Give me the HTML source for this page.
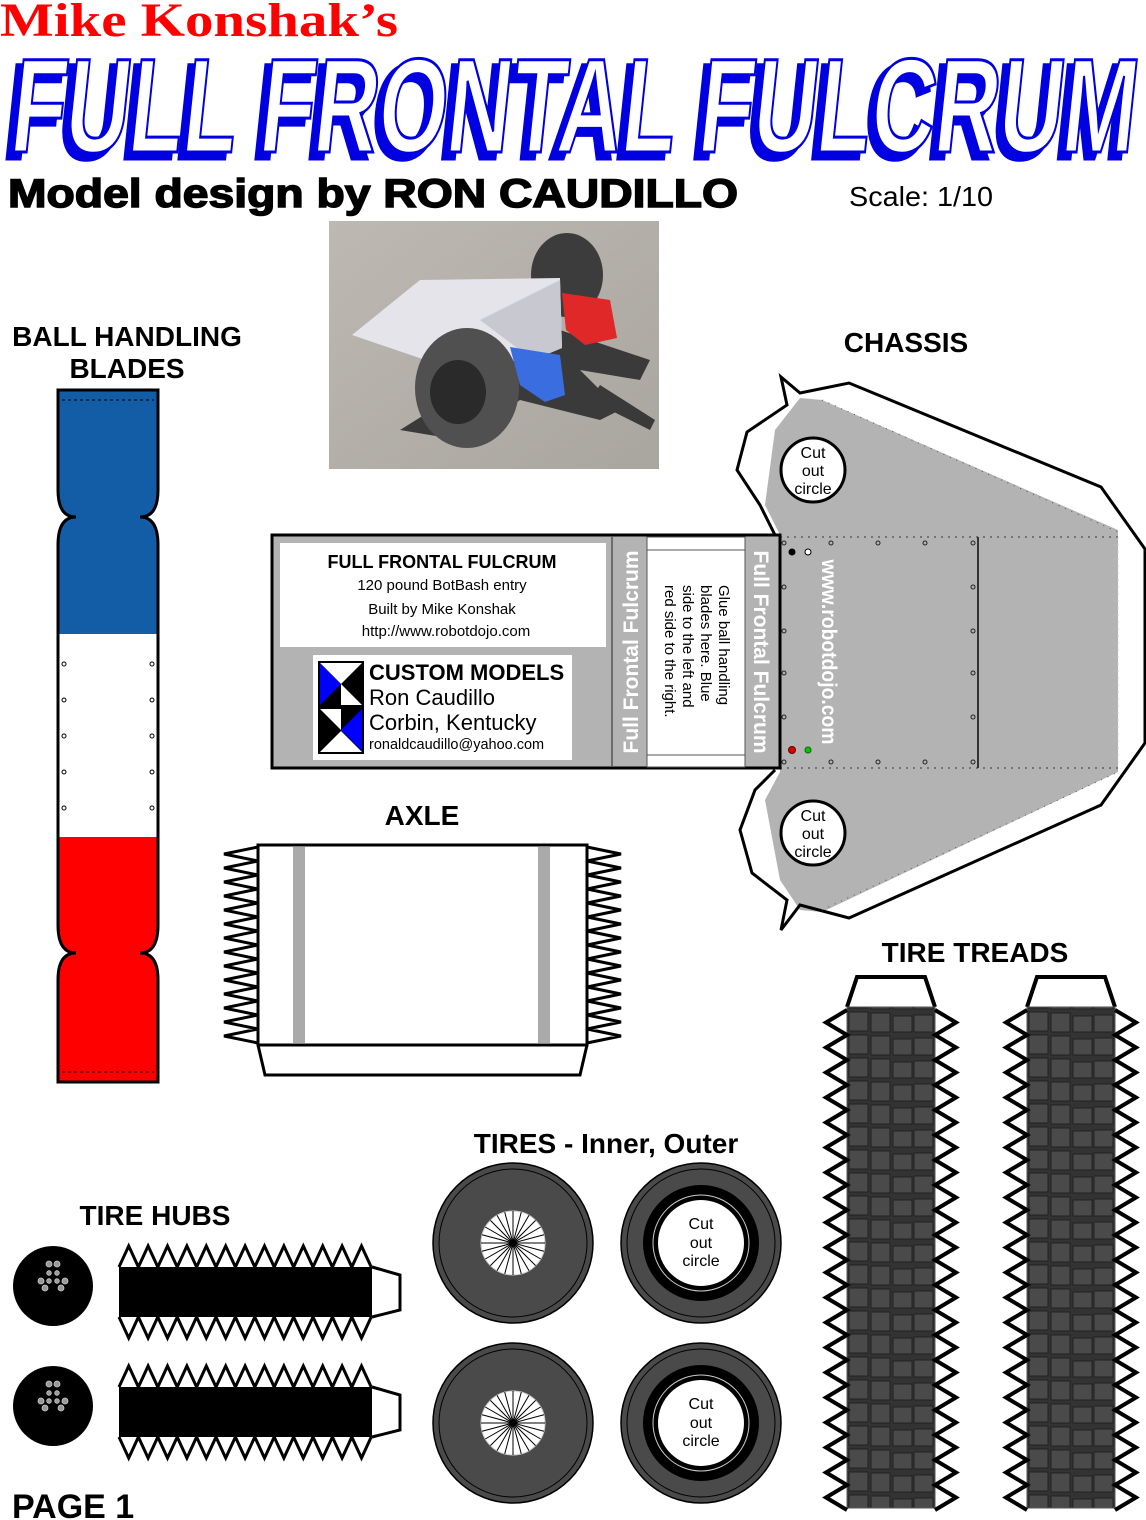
<!DOCTYPE html>
<html><head><meta charset="utf-8"><style>
html,body{margin:0;padding:0;background:#fff}
svg{display:block}
text{font-family:"Liberation Sans",sans-serif}
</style></head><body>
<svg width="1146" height="1520" viewBox="0 0 1146 1520" xmlns="http://www.w3.org/2000/svg">
<defs>
<linearGradient id="pg" x1="0" y1="0" x2="1" y2="1"><stop offset="0" stop-color="#bdb9b2"/><stop offset="1" stop-color="#a9a59f"/></linearGradient>
<pattern id="tread" x="847" y="1010" width="88" height="23" patternUnits="userSpaceOnUse">
<rect width="88" height="23" fill="#333"/>
<rect x="2" y="2" width="19" height="19" fill="#4a4a4a" stroke="#222" stroke-width="1"/>
<rect x="24" y="3" width="19" height="19" fill="#4a4a4a" stroke="#222" stroke-width="1"/>
<rect x="46" y="6" width="19" height="16" fill="#4a4a4a" stroke="#222" stroke-width="1"/>
<rect x="67" y="5" width="19" height="17" fill="#4a4a4a" stroke="#222" stroke-width="1"/>
</pattern>
<pattern id="tread2" x="1027" y="1010" width="88" height="23" patternUnits="userSpaceOnUse">
<rect width="88" height="23" fill="#333"/>
<rect x="2" y="2" width="19" height="19" fill="#4a4a4a" stroke="#222" stroke-width="1"/>
<rect x="24" y="3" width="19" height="19" fill="#4a4a4a" stroke="#222" stroke-width="1"/>
<rect x="46" y="6" width="19" height="16" fill="#4a4a4a" stroke="#222" stroke-width="1"/>
<rect x="67" y="5" width="19" height="17" fill="#4a4a4a" stroke="#222" stroke-width="1"/>
</pattern>
<clipPath id="bladeclip"><path id="bladep" d="M58,390 H158 V490 Q158,517 140,517 Q158,517 158,545 V925 Q158,953 140,953 Q158,953 158,980 V1082 H58 V980 Q58,953 76,953 Q58,953 58,925 V545 Q58,517 76,517 Q58,517 58,490 Z"/></clipPath>
<g id="spokes">
<circle r="32" fill="#fff" stroke="#ccc" stroke-width="1"/>
<g stroke="#000" stroke-width="1">
<line x1="-32" y1="0" x2="32" y2="0"/>
<line x1="-32" y1="0" x2="32" y2="0" transform="rotate(15)"/>
<line x1="-32" y1="0" x2="32" y2="0" transform="rotate(30)"/>
<line x1="-32" y1="0" x2="32" y2="0" transform="rotate(45)"/>
<line x1="-32" y1="0" x2="32" y2="0" transform="rotate(60)"/>
<line x1="-32" y1="0" x2="32" y2="0" transform="rotate(75)"/>
<line x1="-32" y1="0" x2="32" y2="0" transform="rotate(90)"/>
<line x1="-32" y1="0" x2="32" y2="0" transform="rotate(105)"/>
<line x1="-32" y1="0" x2="32" y2="0" transform="rotate(120)"/>
<line x1="-32" y1="0" x2="32" y2="0" transform="rotate(135)"/>
<line x1="-32" y1="0" x2="32" y2="0" transform="rotate(150)"/>
<line x1="-32" y1="0" x2="32" y2="0" transform="rotate(165)"/>
</g></g>
<g id="hubdisc">
<circle r="40" fill="#000"/>
<g fill="#999" stroke="#ccc" stroke-width="0.8">
<circle cx="-4" cy="-22" r="3"/><circle cx="4" cy="-22" r="3"/>
<circle cx="-4" cy="-13" r="2.3"/><circle cx="4" cy="-13" r="2.3"/>
<circle cx="-4" cy="-5" r="2.3"/><circle cx="4" cy="-5" r="2.3"/>
<circle cx="-12" cy="-5" r="3"/><circle cx="12" cy="-5" r="3"/>
<circle cx="-8" cy="2" r="3"/><circle cx="8" cy="2" r="3"/>
</g></g>
<g id="hubstrip">
<path d="M119,1267 l9.7,-21 9.7,21 9.7,-21 9.7,21 9.7,-21 9.7,21 9.7,-21 9.7,21 9.7,-21 9.7,21 9.7,-21 9.7,21 9.7,-21 9.7,21 9.7,-21 9.7,21 9.7,-21 9.7,21 9.7,-21 9.7,21 9.7,-21 9.7,21 9.7,-21 9.7,21 9.7,-21 9.7,21" fill="#fff" stroke="#000" stroke-width="3" stroke-linejoin="miter"/>
<path d="M119,1317 l9.7,21 9.7,-21 9.7,21 9.7,-21 9.7,21 9.7,-21 9.7,21 9.7,-21 9.7,21 9.7,-21 9.7,21 9.7,-21 9.7,21 9.7,-21 9.7,21 9.7,-21 9.7,21 9.7,-21 9.7,21 9.7,-21 9.7,21 9.7,-21 9.7,21 9.7,-21 9.7,21 9.7,-21" fill="#fff" stroke="#000" stroke-width="3"/>
<rect x="119" y="1267" width="253" height="50" fill="#000"/>
<path d="M372,1267 L400,1275 L400,1310 L372,1317" fill="#fff" stroke="#000" stroke-width="3"/>
</g>
<path id="zz" d="M847,1010 l-21,12.5 21,12.5 -21,12.5 21,12.5 -21,12.5 21,12.5 -21,12.5 21,12.5 -21,12.5 21,12.5 -21,12.5 21,12.5 -21,12.5 21,12.5 -21,12.5 21,12.5 -21,12.5 21,12.5 -21,12.5 21,12.5 -21,12.5 21,12.5 -21,12.5 21,12.5 -21,12.5 21,12.5 -21,12.5 21,12.5 -21,12.5 21,12.5 -21,12.5 21,12.5 -21,12.5 21,12.5 -21,12.5 21,12.5 -21,12.5 21,12.5 -21,12.5 21,12.5" fill="none" stroke="#000" stroke-width="4"/>
</defs>

<!-- Header -->
<text x="0" y="36" font-size="48" font-weight="bold" fill="#f00" textLength="398" lengthAdjust="spacingAndGlyphs" style="font-family:'Liberation Serif',serif">Mike Konshak’s</text>
<g transform="skewX(-6)" font-weight="bold" font-size="134">
<text x="18" y="158" textLength="1125" lengthAdjust="spacingAndGlyphs" fill="#0000e0" stroke="#0000e0" stroke-width="5">FULL FRONTAL FULCRUM</text>
<text x="24" y="152" textLength="1125" lengthAdjust="spacingAndGlyphs" fill="#fff" stroke="#0000e0" stroke-width="3">FULL FRONTAL FULCRUM</text>
</g>
<text x="8" y="207" font-size="40" font-weight="bold" textLength="730" lengthAdjust="spacingAndGlyphs" stroke="#000" stroke-width="1.5">Model design by RON CAUDILLO</text>
<text x="849" y="206" font-size="28" textLength="144" lengthAdjust="spacingAndGlyphs">Scale: 1/10</text>

<!-- Photo -->
<rect x="329" y="221" width="330" height="248" fill="url(#pg)"/>
<path d="M560,330 L650,360 L640,380 L580,370 L620,410 L600,420 L520,400 L460,440 L400,430 Z" fill="#3a3a3a"/>
<path d="M600,385 L655,420 L650,430 L590,400 Z" fill="#3a3a3a"/>
<ellipse cx="567" cy="275" rx="36" ry="42" fill="#3c3c3c"/>
<polygon points="352,335 420,280 560,278 562,348 533,360 440,365" fill="#e4e4ea"/>
<polygon points="480,320 560,280 562,348 533,360" fill="#c8c8d0"/>
<polygon points="562,293 610,300 617,338 585,345 566,330" fill="#e02828"/>
<ellipse cx="467" cy="388" rx="52" ry="60" fill="#505050"/>
<ellipse cx="458" cy="392" rx="28" ry="32" fill="#2a2a2a"/>
<polygon points="510,347 560,355 565,395 545,402 520,385" fill="#3a6ee0"/>

<!-- Blades -->
<text x="127" y="346" font-size="28" font-weight="bold" text-anchor="middle">BALL HANDLING</text>
<text x="127" y="378" font-size="28" font-weight="bold" text-anchor="middle">BLADES</text>
<g clip-path="url(#bladeclip)">
<rect x="58" y="390" width="100" height="244" fill="#135da6"/>
<rect x="58" y="634" width="100" height="203" fill="#fff"/>
<rect x="58" y="837" width="100" height="245" fill="#f00"/>
</g>
<use href="#bladep" fill="none" stroke="#000" stroke-width="3"/>
<line x1="62" y1="400" x2="154" y2="400" stroke="#000" stroke-dasharray="3,3"/>
<line x1="62" y1="1072" x2="154" y2="1072" stroke="#000" stroke-dasharray="3,3"/>
<g fill="none" stroke="#000" stroke-width="1">
<circle cx="64" cy="664" r="2"/><circle cx="152" cy="664" r="2"/>
<circle cx="64" cy="700" r="2"/><circle cx="152" cy="700" r="2"/>
<circle cx="64" cy="736" r="2"/><circle cx="152" cy="736" r="2"/>
<circle cx="64" cy="772" r="2"/><circle cx="152" cy="772" r="2"/>
<circle cx="64" cy="808" r="2"/><circle cx="152" cy="808" r="2"/>
</g>

<!-- Chassis -->
<text x="906" y="352" font-size="28" font-weight="bold" text-anchor="middle">CHASSIS</text>
<path d="M800,398 L822,400 L1118,530 L1118,772 L822,912 L800,910 L780,880 L765,800 L780,772 L780,535 L765,505 L775,430 Z" fill="#b3b3b3"/>
<path d="M775,535 L760,505 L737,470 L747,432 L787,405 L781,377 L800,393 L849,383 L1101,487 L1145,549 L1145,743 L1101,805 L849,918 L800,905 L781,930 L787,900 L752,873 L740,830 L755,790 L775,770" fill="none" stroke="#000" stroke-width="3" stroke-linejoin="miter"/>
<line x1="780" y1="537" x2="1118" y2="537" stroke="#333" stroke-dasharray="2,5"/>
<line x1="780" y1="768" x2="1118" y2="768" stroke="#333" stroke-dasharray="2,5"/>
<line x1="1118" y1="537" x2="1118" y2="768" stroke="#ccc" stroke-dasharray="2,5"/>
<line x1="822" y1="400" x2="1118" y2="532" stroke="#555" stroke-dasharray="1,6"/>
<line x1="822" y1="910" x2="1118" y2="772" stroke="#555" stroke-dasharray="1,6"/>
<line x1="978" y1="537" x2="978" y2="768" stroke="#333" stroke-width="2"/>
<g fill="none" stroke="#222" stroke-width="1">
<circle cx="784" cy="543" r="2"/><circle cx="831" cy="543" r="2"/><circle cx="878" cy="543" r="2"/><circle cx="925" cy="543" r="2"/><circle cx="973" cy="543" r="2"/>
<circle cx="784" cy="762" r="2"/><circle cx="831" cy="762" r="2"/><circle cx="878" cy="762" r="2"/><circle cx="925" cy="762" r="2"/><circle cx="973" cy="762" r="2"/>
<circle cx="784" cy="587" r="2"/><circle cx="784" cy="631" r="2"/><circle cx="784" cy="673" r="2"/><circle cx="784" cy="717" r="2"/>
<circle cx="973" cy="587" r="2"/><circle cx="973" cy="631" r="2"/><circle cx="973" cy="673" r="2"/><circle cx="973" cy="717" r="2"/>
</g>
<circle cx="792" cy="552" r="3.5" fill="#000"/>
<circle cx="808" cy="552" r="3" fill="#fff" stroke="#000"/>
<circle cx="792" cy="750" r="3.5" fill="#d00" stroke="#600"/>
<circle cx="808" cy="750" r="3" fill="#0c0" stroke="#060"/>
<text transform="translate(822,652) rotate(90)" font-size="21" font-weight="bold" fill="#fff" text-anchor="middle" textLength="185" lengthAdjust="spacingAndGlyphs">www.robotdojo.com</text>
<circle cx="813" cy="470" r="32" fill="#fff" stroke="#000" stroke-width="3"/>
<text x="813" y="458" font-size="16" text-anchor="middle">Cut</text>
<text x="813" y="476" font-size="16" text-anchor="middle">out</text>
<text x="813" y="494" font-size="16" text-anchor="middle">circle</text>
<circle cx="813" cy="833" r="32" fill="#fff" stroke="#000" stroke-width="3"/>
<text x="813" y="821" font-size="16" text-anchor="middle">Cut</text>
<text x="813" y="839" font-size="16" text-anchor="middle">out</text>
<text x="813" y="857" font-size="16" text-anchor="middle">circle</text>

<!-- Info box -->
<rect x="272" y="535" width="508" height="233" fill="#b3b3b3" stroke="#000" stroke-width="3"/>
<rect x="280" y="543" width="326" height="104" fill="#fff"/>
<text x="442" y="568" font-size="18" font-weight="bold" text-anchor="middle">FULL FRONTAL FULCRUM</text>
<text x="442" y="590" font-size="15" text-anchor="middle">120 pound BotBash entry</text>
<text x="442" y="614" font-size="15" text-anchor="middle">Built by Mike Konshak</text>
<text x="446" y="636" font-size="15" text-anchor="middle">http://www.robotdojo.com</text>
<rect x="313" y="655" width="259" height="105" fill="#fff"/>
<rect x="318" y="661" width="46" height="93" fill="#000"/>
<polygon points="320,663 362,663 341,684" fill="#fff"/>
<polygon points="320,663 341,684 320,705" fill="#00f"/>
<polygon points="341,684 362,705 341,705" fill="#fff"/>
<polygon points="320,709 341,709 341,730" fill="#fff"/>
<polygon points="362,709 362,751 341,730" fill="#00f"/>
<polygon points="320,752 362,752 341,731" fill="#fff"/>
<text x="369" y="680" font-size="22" font-weight="bold">CUSTOM MODELS</text>
<text x="369" y="705" font-size="22">Ron Caudillo</text>
<text x="369" y="730" font-size="22">Corbin, Kentucky</text>
<text x="369" y="749" font-size="14.5">ronaldcaudillo@yahoo.com</text>
<line x1="612" y1="537" x2="612" y2="767" stroke="#555" stroke-width="1.5"/>
<rect x="647" y="537" width="98" height="230" fill="#fff" stroke="#555"/>
<line x1="647" y1="550" x2="745" y2="550" stroke="#555"/>
<line x1="647" y1="755" x2="745" y2="755" stroke="#555"/>
<text transform="translate(638,652) rotate(-90)" font-size="21" font-weight="bold" fill="#fff" text-anchor="middle">Full Frontal Fulcrum</text>
<text transform="translate(754,652) rotate(90)" font-size="21" font-weight="bold" fill="#fff" text-anchor="middle">Full Frontal Fulcrum</text>
<g font-size="15" text-anchor="start">
<text transform="translate(719,585) rotate(90)">Glue ball handling</text>
<text transform="translate(701,585) rotate(90)">blades here.  Blue</text>
<text transform="translate(683,585) rotate(90)">side to the left and</text>
<text transform="translate(665,585) rotate(90)">red side to the right.</text>
</g>

<!-- Axle -->
<text x="422" y="825" font-size="28" font-weight="bold" text-anchor="middle">AXLE</text>
<path d="M258,847 l-34,7 34,7 -34,7 34,7 -34,7 34,7 -34,7 34,7 -34,7 34,7 -34,7 34,7 -34,7 34,7 -34,7 34,7 -34,7 34,7 -34,7 34,7 -34,7 34,7 -34,7 34,7 -34,7 34,7 -34,7 34,7" fill="none" stroke="#000" stroke-width="3"/>
<path d="M587,847 l34,7 -34,7 34,7 -34,7 34,7 -34,7 34,7 -34,7 34,7 -34,7 34,7 -34,7 34,7 -34,7 34,7 -34,7 34,7 -34,7 34,7 -34,7 34,7 -34,7 34,7 -34,7 34,7 -34,7 34,7 -34,7" fill="none" stroke="#000" stroke-width="3"/>
<rect x="258" y="845" width="329" height="200" fill="#fff" stroke="#000" stroke-width="3"/>
<rect x="293" y="847" width="12" height="196" fill="#aaa"/>
<rect x="538" y="847" width="12" height="196" fill="#aaa"/>
<path d="M258,1045 L265,1075 L580,1075 L587,1045" fill="none" stroke="#000" stroke-width="3"/>

<!-- Tire treads -->
<text x="975" y="962" font-size="28" font-weight="bold" text-anchor="middle">TIRE TREADS</text>
<g>
<path d="M847,1007 L857,977 L925,977 L935,1007" fill="#fff" stroke="#000" stroke-width="4"/>
<rect x="847" y="1007" width="88" height="501" fill="url(#tread)" stroke="#555"/>
<use href="#zz"/>
<use href="#zz" transform="translate(1782,0) scale(-1,1)"/>
</g>
<g>
<path d="M1027,1007 L1037,977 L1105,977 L1115,1007" fill="#fff" stroke="#000" stroke-width="4"/>
<rect x="1027" y="1007" width="88" height="501" fill="url(#tread2)" stroke="#555"/>
<use href="#zz" transform="translate(180,0)"/>
<use href="#zz" transform="translate(1962,0) scale(-1,1)"/>
</g>

<!-- Tires -->
<text x="606" y="1153" font-size="28" font-weight="bold" text-anchor="middle">TIRES - Inner, Outer</text>
<g transform="translate(513,1243)"><circle r="80" fill="#4a4a4a" stroke="#000" stroke-width="1.5"/><circle r="74" fill="none" stroke="#000"/><use href="#spokes"/></g>
<g transform="translate(513,1423)"><circle r="80" fill="#4a4a4a" stroke="#000" stroke-width="1.5"/><circle r="74" fill="none" stroke="#000"/><use href="#spokes"/></g>
<g transform="translate(701,1243)"><circle r="80" fill="#4a4a4a" stroke="#000" stroke-width="1.5"/><circle r="74" fill="none" stroke="#000"/><circle r="58" fill="#000"/><circle r="48" fill="none" stroke="#ccc"/><circle r="43" fill="#fff"/>
<text y="-14" font-size="16" text-anchor="middle">Cut</text><text y="5" font-size="16" text-anchor="middle">out</text><text y="23" font-size="16" text-anchor="middle">circle</text></g>
<g transform="translate(701,1423)"><circle r="80" fill="#4a4a4a" stroke="#000" stroke-width="1.5"/><circle r="74" fill="none" stroke="#000"/><circle r="58" fill="#000"/><circle r="48" fill="none" stroke="#ccc"/><circle r="43" fill="#fff"/>
<text y="-14" font-size="16" text-anchor="middle">Cut</text><text y="5" font-size="16" text-anchor="middle">out</text><text y="23" font-size="16" text-anchor="middle">circle</text></g>

<!-- Hubs -->
<text x="155" y="1225" font-size="28" font-weight="bold" text-anchor="middle">TIRE HUBS</text>
<use href="#hubdisc" transform="translate(53,1286)"/>
<use href="#hubdisc" transform="translate(53,1406)"/>
<use href="#hubstrip"/>
<use href="#hubstrip" transform="translate(0,120)"/>

<text x="12" y="1518" font-size="34" font-weight="bold">PAGE 1</text>
</svg>
</body></html>
